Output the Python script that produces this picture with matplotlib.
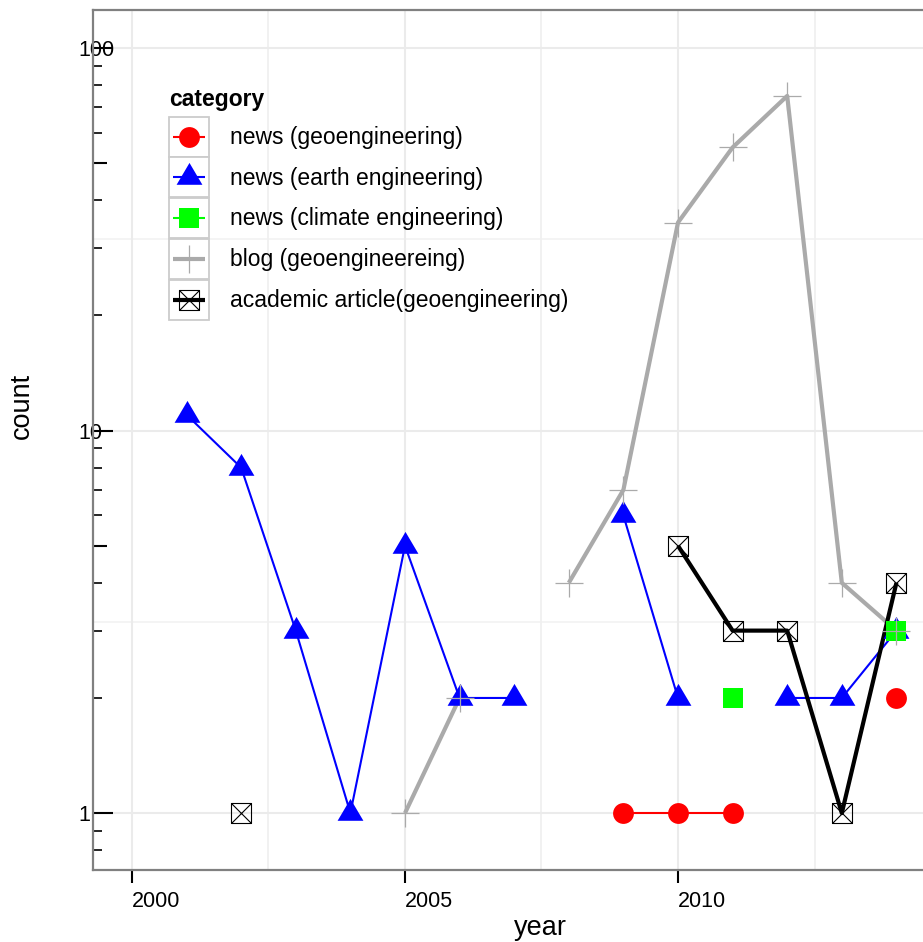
import numpy as np
import matplotlib
matplotlib.use("Agg")
import matplotlib.pyplot as plt
from matplotlib.path import Path
from matplotlib.patches import Rectangle
from matplotlib.lines import Line2D
from matplotlib.legend_handler import HandlerBase
from matplotlib.ticker import FixedLocator, NullFormatter

nan = np.nan

# data
years = [2001, 2002, 2003, 2004, 2005, 2006, 2007, 2008, 2009, 2010, 2011, 2012, 2013, 2014]
news_geo = [nan, nan, nan, nan, nan, nan, nan, nan, 1, 1, 1, nan, nan, 2]
news_earth = [11, 8, 3, 1, 5, 2, 2, nan, 6, 2, nan, 2, 2, 3]
news_climate = [nan, nan, nan, nan, nan, nan, nan, nan, nan, nan, 2, nan, nan, 3]
blog_geo = [nan, nan, nan, nan, 1, 2, nan, 4, 7, 35, 55, 75, 4, 3]
academic_geo = [nan, 1, nan, nan, nan, nan, nan, nan, nan, 5, 3, 3, 1, 4]

labels = ["news (geoengineering)", "news (earth engineering)",
          "news (climate engineering)", "blog (geoengineereing)",
          "academic article(geoengineering)"]
x_breaks = [2000, 2005, 2010]
x_minor = [2002.5, 2007.5, 2012.5]
y_breaks = [1, 10, 100]
y_minor_grid = [10 ** 0.5, 10 ** 1.5]

plt.rcParams["font.family"] = ["Liberation Sans", "DejaVu Sans"]

# ggplot-like shapes: triangle centred on its centroid, square with cross
tri = Path([(0, 2 / 3), (-0.59, -1 / 3), (0.59, -1 / 3), (0, 2 / 3)],
           [Path.MOVETO, Path.LINETO, Path.LINETO, Path.CLOSEPOLY])
box_x = Path([(-1, -1), (1, -1), (1, 1), (-1, 1), (-1, -1),
              (-1, -1), (1, 1), (-1, 1), (1, -1)],
             [1, 2, 2, 2, 79, 1, 2, 1, 2])

styles = [
    dict(color="#FF0000", lw=1.5, marker="o", ms=15, mfc="#FF0000", mec="none", mew=0),
    dict(color="#0000FF", lw=1.5, marker=tri, ms=21, mfc="#0000FF", mec="none", mew=0),
    dict(color="#00FF00", lw=1.5, marker="s", ms=15, mfc="#00FF00", mec="none", mew=0),
    dict(color="#AAAAAA", lw=3.0, marker="+", ms=20, mfc="none", mec="#AAAAAA", mew=0.9),
    dict(color="#000000", lw=3.0, marker=box_x, ms=14.4, mfc="none", mec="#000000", mew=0.8),
]
series = [news_geo, news_earth, news_climate, blog_geo, academic_geo]

fig = plt.figure(figsize=(9.23, 9.42), dpi=100)
W, H = 923, 942
ax = fig.add_axes([93 / W, 72 / H, (W - 93) / W, 860 / H])

handles = []
for vals, st in zip(series, styles):
    ax.plot(years, vals, color=st["color"], lw=st["lw"], solid_capstyle="butt", zorder=2)
for vals, st in zip(series, styles):
    ax.plot(years, vals, ls="none", marker=st["marker"], ms=st["ms"], mfc=st["mfc"],
            mec=st["mec"], mew=st["mew"], zorder=3)
    handles.append(Line2D([], [], color=st["color"], lw=st["lw"], marker=st["marker"],
                          ms=st["ms"], mfc=st["mfc"], mec=st["mec"], mew=st["mew"]))

ax.set_yscale("log")
ax.set_xlim(1999.286, 2014.487)
ax.set_ylim(0.71, 125.8)

# grid
ax.set_xticks(x_breaks)
ax.set_xticks(x_minor, minor=True)
ax.grid(True, which="major", axis="x", color="#EBEBEB", lw=1.5, zorder=0)
ax.grid(True, which="minor", axis="x", color="#F0F0F0", lw=1.3, zorder=0)
ax.grid(True, which="major", axis="y", color="#EBEBEB", lw=1.5, zorder=0)
for yv in y_minor_grid:
    ax.axhline(yv, color="#F3F3F3", lw=1.3, zorder=0)
ax.set_axisbelow(True)

# axis ticks and labels
ax.set_xticklabels([str(v) for v in x_breaks], ha="left")
ax.tick_params(axis="x", which="major", direction="out", length=9.4, width=1.5,
               color="black", labelsize=15.5, pad=6)
ax.tick_params(axis="x", which="minor", length=0)

ax.yaxis.set_major_locator(FixedLocator(y_breaks))
ax.set_yticklabels([str(v) for v in y_breaks], ha="left")
minor_y = [m * 10.0 ** e for e in (-1, 0, 1) for m in (2, 3, 4, 6, 7, 8, 9)]
ax.yaxis.set_minor_locator(FixedLocator(minor_y))
ax.yaxis.set_minor_formatter(NullFormatter())
ax.tick_params(axis="y", which="major", direction="in", length=14.4, width=1.5,
               color="black", labelsize=15.5, pad=10.8)
ax.tick_params(axis="y", which="minor", direction="in", length=6.5, width=1.2, color="black")

sec = ax.secondary_yaxis("left")
sec.set_yticks([0.5, 5, 50])
sec.yaxis.set_minor_locator(FixedLocator([]))
sec.tick_params(axis="y", which="major", direction="in", length=10, width=1.5,
                color="black", labelleft=False)
sec.spines["left"].set_visible(False)

for side in ("left", "bottom", "top"):
    ax.spines[side].set_color("#808080")
    ax.spines[side].set_linewidth(1.6)
ax.spines["right"].set_visible(False)

fig.text(22 / W, 1 - 406 / H, "count", rotation=90, ha="center", va="center", fontsize=19.5)
fig.text(540 / W, 1 - 928 / H, "year", ha="center", va="center", fontsize=19.5)


class BoxedKey(HandlerBase):
    def create_artists(self, legend, orig_handle, xdescent, ydescent, width, height,
                       fontsize, trans):
        x0, y0 = -xdescent, -ydescent
        rect = Rectangle((x0, y0), width, height, facecolor="white", edgecolor="#CCCCCC",
                         linewidth=1.3, transform=trans)
        yc = y0 + height / 2
        inset = 0.1 * width
        line = Line2D([x0 + inset, x0 + width - inset], [yc, yc],
                      color=orig_handle.get_color(), lw=orig_handle.get_linewidth(),
                      solid_capstyle="butt", transform=trans)
        mk = Line2D([x0 + width / 2], [yc], ls="none", marker=orig_handle.get_marker(),
                    ms=orig_handle.get_markersize(), mfc=orig_handle.get_markerfacecolor(),
                    mec=orig_handle.get_markeredgecolor(), mew=orig_handle.get_markeredgewidth(),
                    transform=trans)
        return [rect, line, mk]


leg = ax.legend(handles, labels, title="category", loc="upper left",
                bbox_to_anchor=(169 / W, 1 - 88 / H), bbox_transform=fig.transFigure,
                frameon=False, fontsize=16.5, borderpad=0, borderaxespad=0,
                handlelength=1.75, handleheight=2.31, handletextpad=0.92,
                labelspacing=0.03, alignment="left",
                title_fontproperties={"weight": "bold", "size": 16.5},
                handler_map={Line2D: BoxedKey()})
leg._legend_box.sep = 4.1  # a little more room under the title
leg.set_zorder(5)

fig.savefig("out.png", dpi=100)
